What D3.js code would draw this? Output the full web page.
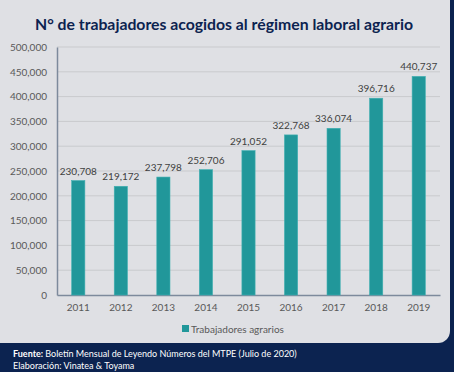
<!DOCTYPE html>
<html lang="es">
<head>
<meta charset="UTF-8">
<title>Trabajadores régimen agrario</title>
<script src="https://cdn.jsdelivr.net/npm/d3@7"></script>
<style>
    body { margin: 0; background: #0c2350; }
    svg { display: block; }
    text { font-family: Lato, "Open Sans", sans-serif; }
    .tick text { fill: #595959; font-size: 10px; }
    .title { fill: #0c2350; font-size: 16px; font-weight: bold; }
    .lbl { fill: #404040; font-size: 10px; }
    .foot { fill: #ffffff; font-size: 9px; }
</style>
</head>
<body>
<svg width="454" height="372"></svg>
<script>
    // data
    let years = ["2011","2012","2013","2014","2015","2016","2017","2018","2019"]
    let workers = [230708, 219172, 237798, 252706, 291052, 322768, 336074, 396716, 440737]
    let yTicks = [0, 50000, 100000, 150000, 200000, 250000, 300000, 350000, 400000, 450000, 500000]

    let svg = d3.select('svg')
    let fmt = d3.format(',')

    // card
    svg.append('rect').attr('x', -12).attr('y', -12).attr('width', 462).attr('height', 355)
        .attr('rx', 12).attr('fill', '#dfe0e4')

    svg.append('text').attr('class', 'title').attr('x', 224).attr('y', 30)
        .attr('text-anchor', 'middle').attr('textLength', 378).attr('lengthAdjust', 'spacingAndGlyphs')
        .text('N° de trabajadores acogidos al régimen laboral agrario')

    let x = d3.scaleBand().domain(years).range([57, 440]).paddingInner(0.69).paddingOuter(0.345)
    let y = d3.scaleLinear().domain([0, 500000]).range([295, 47])

    // gridlines
    svg.append('g').selectAll('line').data(yTicks.slice(1)).join('line')
        .attr('x1', 57).attr('x2', 440)
        .attr('y1', d => y(d)).attr('y2', d => y(d))
        .attr('stroke', '#c9cacd').attr('stroke-width', 1)

    let yAxis = svg.append('g').attr('transform', 'translate(57,0)')
        .call(d3.axisLeft(y).tickValues(yTicks).tickFormat(fmt).tickSize(0).tickPadding(10))
    yAxis.select('.domain').attr('stroke', '#7d8a9c').attr('stroke-width', 1.5)

    let xAxis = svg.append('g').attr('transform', 'translate(0,295)')
        .call(d3.axisBottom(x).tickSize(0).tickPadding(9))
    xAxis.select('.domain').attr('stroke', '#7d8a9c').attr('stroke-width', 1.5)

    svg.append('g').selectAll('rect').data(workers).join('rect')
        .attr('x', (d, i) => x(years[i]))
        .attr('y', d => y(d))
        .attr('width', x.bandwidth())
        .attr('height', d => y(0) - y(d))
        .attr('fill', '#21979a')
        .attr('stroke', '#3fb0b2').attr('stroke-width', 0.6)

    svg.append('g').selectAll('text').data(workers).join('text')
        .attr('class', 'lbl')
        .attr('x', (d, i) => x(years[i]) + x.bandwidth() / 2)
        .attr('y', d => y(d) - 6)
        .attr('text-anchor', 'middle')
        .text(d => fmt(d))

    // legend
    svg.append('rect').attr('x', 182).attr('y', 325).attr('width', 7).attr('height', 7).attr('fill', '#21979a')
    svg.append('text').attr('x', 191).attr('y', 332.5)
        .attr('fill', '#595959').style('font-size', '10px').text('Trabajadores agrarios')

    // footer
    let ft = svg.append('text').attr('class', 'foot').attr('x', 13).attr('y', 357)
    ft.append('tspan').attr('font-weight', 'bold').text('Fuente: ')
    ft.append('tspan').text(' Boletín Mensual de Leyendo Números del MTPE (Julio de 2020)')
    svg.append('text').attr('class', 'foot').attr('x', 13).attr('y', 369).text('Elaboración: Vinatea & Toyama')
</script>
</body>
</html>
